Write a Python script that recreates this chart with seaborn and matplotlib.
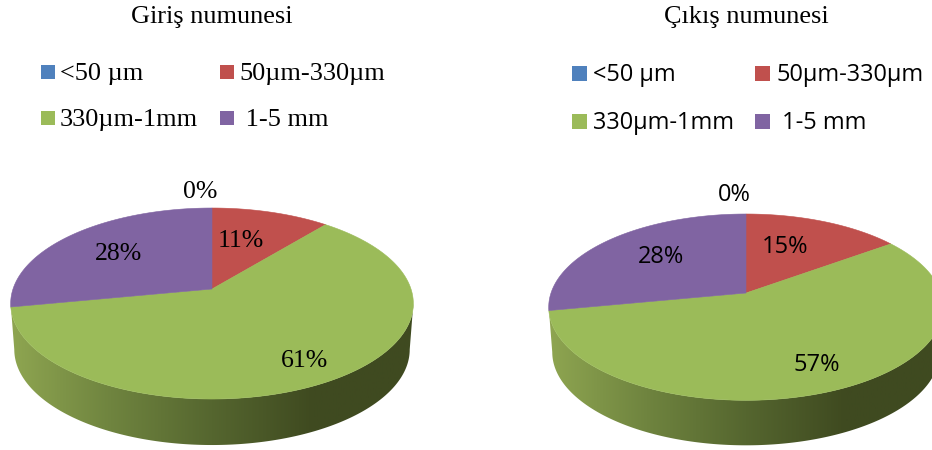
import numpy as np
import matplotlib
matplotlib.use("Agg")
import matplotlib.pyplot as plt
from matplotlib.colors import LinearSegmentedColormap
from matplotlib.patches import Polygon, Rectangle
import seaborn as sns

# Particle size classes and their shares (percent)
size_classes = ["<50 µm", "50µm-330µm", "330µm-1mm", " 1-5 mm"]
inlet_shares = [0, 11, 61, 28]
outlet_shares = [0, 15, 57, 28]
sample_titles = ["Giriş numunesi", "Çıkış numunesi"]

sns.set_style("white")
palette = sns.color_palette(["#4F81BD", "#C0504D", "#9BBB59", "#8064A2"])
side_cmap = LinearSegmentedColormap.from_list(
    "side", ["#8FA651", "#6F843F", "#55662F", "#3F4A20", "#3F4A20"],
    )

SERIF = "Liberation Serif"
SANS = "Open Sans"
PERSPECTIVE = 0.152


def project(theta, geom, drop=0.0, shrink=1.0):
    """Map clockwise-from-top angles on the disc to tilted figure pixels."""
    u, v = np.sin(theta), np.cos(theta)
    w = 1 + PERSPECTIVE * v
    x = geom["cx"] + geom["rx"] * shrink * u / w
    y = geom["cy"] - geom["ry"] * v / w + drop
    return x, y


def draw_pie(ax, shares, geom, text_font, label_xy):
    # Side wall below the front rim, shaded left to right
    left = -np.arcsin(PERSPECTIVE) - np.pi / 2
    theta = np.linspace(left + 2 * np.pi, np.pi / 2 + np.arcsin(PERSPECTIVE), 240)
    top_x, top_y = project(theta, geom)
    low_x, low_y = project(theta, geom, geom["depth"], 0.982)
    wall = Polygon(np.r_[np.c_[top_x, top_y], np.c_[low_x, low_y][::-1]],
                   closed=True, fc="none", ec="none", transform=ax.transData)
    ax.add_patch(wall)
    ramp = np.linspace(0, 1, 256)[None, :]
    span = geom["rx"] * 1.02
    image = ax.imshow(ramp, cmap=side_cmap, aspect="auto",
                      extent=(geom["cx"] - span, geom["cx"] + span, 450, 0),
                      zorder=1)
    image.set_clip_path(wall)

    # Top face wedges, clockwise from twelve o'clock
    edges = np.cumsum([0] + list(shares)) / 100 * 2 * np.pi
    for start, stop, color, share in zip(edges[:-1], edges[1:], palette, shares):
        if share == 0:
            continue
        arc = np.linspace(start, stop, 180)
        x, y = project(arc, geom)
        outline = np.r_[[[geom["cx"], geom["cy"]]], np.c_[x, y]]
        ax.add_patch(Polygon(outline, closed=True, fc=color, ec=color, lw=0.4, zorder=2))

    for share, (lx, ly) in zip(shares, label_xy):
        ax.text(lx, ly, f"{share}%", ha="center", va="center",
                fontsize=geom["label_size"], family=text_font, color="black", zorder=3)


def draw_legend(ax, x_cols, y_rows, box, gap, font, size):
    positions = [(x_cols[0], y_rows[0]), (x_cols[1], y_rows[0]),
                 (x_cols[0], y_rows[1]), (x_cols[1], y_rows[1])]
    for name, color, (x, y) in zip(size_classes, palette, positions):
        ax.add_patch(Rectangle((x, y - box / 2), box, box, fc=color, ec="none"))
        ax.text(x + box + gap, y + 2, name, ha="left", va="center",
                fontsize=size, family=font, color="black")


fig = plt.figure(figsize=(9.32, 4.5), dpi=100, facecolor="white")
ax = fig.add_axes([0, 0, 1, 1])

inlet_geom = dict(cx=212, cy=289, rx=199, ry=93.3, depth=46, label_size=18.5)
outlet_geom = dict(cx=746, cy=293, rx=195, ry=91, depth=45, label_size=17)

draw_pie(ax, inlet_shares, inlet_geom, SERIF,
         [(200, 192), (241, 241), (305, 361), (119, 254)])
draw_pie(ax, outlet_shares, outlet_geom, SANS,
         [(734, 195), (785, 247), (817, 365), (661, 257)])

draw_legend(ax, (41, 220), (72, 118), 14, 5, SERIF, 18.9)
draw_legend(ax, (572, 755), (73, 121), 15, 6, SANS, 16.9)

ax.text(212, 17, sample_titles[0], ha="center", va="center",
        fontsize=18.9, family=SERIF, color="black")
ax.text(746, 17, sample_titles[1], ha="center", va="center",
        fontsize=18.9, family=SERIF, color="black")

ax.set_xlim(0, 932)
ax.set_ylim(450, 0)
ax.set_axis_off()
fig.savefig("out.png", dpi=100, facecolor="white")
